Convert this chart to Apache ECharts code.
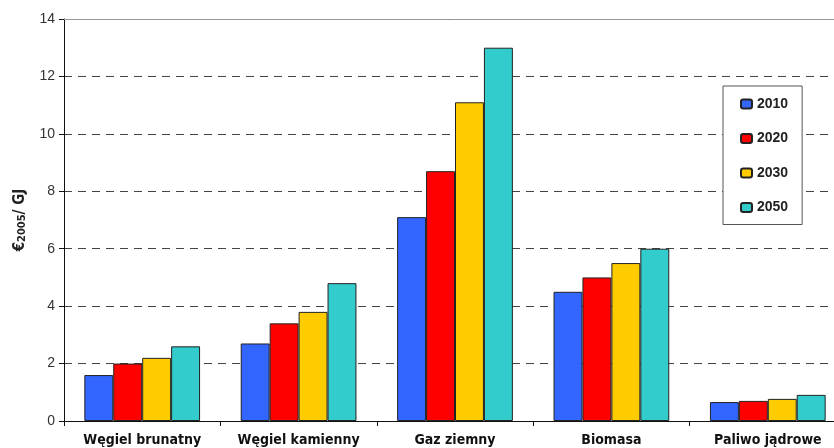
<!DOCTYPE html>
<html>
<head>
<meta charset="utf-8">
<script src="https://cdn.jsdelivr.net/npm/echarts@6/dist/echarts.min.js"></script>
<style>
  html, body { margin: 0; padding: 0; background: #fff; }
  #chart { width: 834px; height: 448px; }
</style>
</head>
<body>
<div id="chart"></div>
<script>
// dane
var categories = ['Węgiel brunatny', 'Węgiel kamienny', 'Gaz ziemny', 'Biomasa', 'Paliwo jądrowe'];
var years = ['2010', '2020', '2030', '2050'];
var v2010 = [1.6, 2.7, 7.1, 4.5, 0.66];
var v2020 = [2.0, 3.4, 8.7, 5.0, 0.70];
var v2030 = [2.2, 3.8, 11.1, 5.5, 0.77];
var v2050 = [2.6, 4.8, 13.0, 6.0, 0.91];
var colors = ['#3366FF', '#FF0000', '#FFCC00', '#33CCCC'];

var condensed = '"DejaVu Sans Condensed", "Liberation Sans", sans-serif';

var chart = echarts.init(document.getElementById('chart'), null, { renderer: 'canvas' });

var values = [v2010, v2020, v2030, v2050];
var series = years.map(function (y, i) {
  var s = {
    name: y,
    type: 'bar',
    data: values[i],
    barGap: '0%',
    barCategoryGap: '26%',
    itemStyle: { color: colors[i], borderColor: '#222', borderWidth: 1 }
  };
  if (i === 0) {
    // górna linia przy 14
    s.markLine = {
      silent: true,
      symbol: 'none',
      label: { show: false },
      lineStyle: { color: '#999', type: 'solid', width: 1 },
      data: [{ yAxis: 14 }]
    };
  }
  return s;
});

var option = {
  animation: false,
  color: colors,
  grid: { left: 64, top: 19, height: 402, width: 782, outerBoundsMode: 'none', containLabel: false },
  legend: {
    orient: 'vertical',
    left: 723,
    top: 86,
    padding: [11, 14, 10, 17],
    itemWidth: 11,
    itemHeight: 9,
    itemGap: 20.5,
    backgroundColor: '#fff',
    borderColor: '#555',
    borderWidth: 1,
    textStyle: { fontFamily: 'Liberation Sans', fontWeight: 'bold', fontSize: 14, color: '#222', lineHeight: 14 },
    data: years
  },
  xAxis: {
    type: 'category',
    data: categories,
    axisLine: { lineStyle: { color: '#111', width: 1 } },
    axisTick: { show: true, interval: 0, length: 5, lineStyle: { color: '#111' } },
    axisLabel: {
      interval: 0,
      hideOverlap: false,
      margin: 12,
      fontFamily: condensed,
      fontWeight: 'bold',
      fontSize: 14,
      color: '#111'
    }
  },
  yAxis: {
    type: 'value',
    min: 0,
    max: 14,
    interval: 2,
    name: '{a|€}{b|2005}{a|/ GJ}',
    nameLocation: 'middle',
    nameGap: 36,
    nameTextStyle: {
      rich: {
        a: { fontFamily: condensed, fontWeight: 'bold', fontSize: 15, color: '#222' },
        b: { fontFamily: condensed, fontWeight: 'bold', fontSize: 11, color: '#222', padding: [4, 0, 0, 0] }
      }
    },
    axisLine: { show: true, lineStyle: { color: '#111', width: 1 } },
    axisTick: { show: true, length: 5, lineStyle: { color: '#111' } },
    axisLabel: { margin: 9, fontFamily: 'Liberation Sans', fontSize: 14, color: '#333' },
    splitLine: { show: true, lineStyle: { color: '#444', type: [8, 6], width: 1 } }
  },
  series: series
};

chart.setOption(option);
</script>
</body>
</html>
